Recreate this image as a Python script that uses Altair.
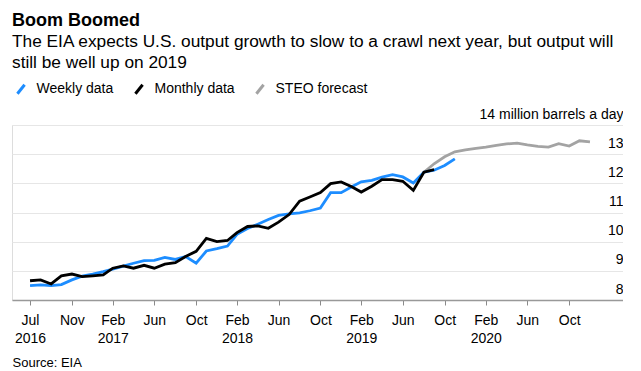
import altair as alt
import pandas as pd

FONT = "Liberation Sans, Arial, Helvetica, sans-serif"

# ---- data (million barrels a day) ----
series_names = ["Weekly data", "Monthly data", "STEO forecast"]
series_colors = ["#1d8dff", "#000000", "#a3a3a3"]

weekly_start = "2016-07-01"
weekly_values = [8.49, 8.52, 8.49, 8.53, 8.69, 8.82, 8.89, 8.97, 9.06, 9.16, 9.26, 9.35,
                 9.36, 9.46, 9.39, 9.49, 9.26, 9.68, 9.76, 9.85, 10.25, 10.45, 10.60, 10.76,
                 10.90, 10.95, 10.99, 11.06, 11.15, 11.68, 11.68, 11.88, 12.05, 12.10, 12.21, 12.30,
                 12.22, 12.01, 12.38, 12.45, 12.61, 12.84]

monthly_start = "2016-07-01"
monthly_values = [8.66, 8.69, 8.55, 8.83, 8.89, 8.80, 8.83, 8.86, 9.09, 9.17, 9.09, 9.19,
                  9.09, 9.23, 9.28, 9.49, 9.67, 10.11, 10.00, 10.04, 10.31, 10.52, 10.54, 10.46,
                  10.67, 10.93, 11.39, 11.53, 11.68, 11.99, 12.05, 11.88, 11.70, 11.90, 12.13, 12.13,
                  12.07, 11.76, 12.38, 12.47]

steo_start = "2019-09-01"
steo_values = [12.38, 12.67, 12.91, 13.08, 13.15, 13.20, 13.24, 13.30, 13.35, 13.38,
               13.32, 13.27, 13.24, 13.36, 13.28, 13.46, 13.42]

# x-axis ticks and their labels
tick_keys = ["2016-07", "2016-11", "2017-03", "2017-07", "2017-11", "2018-03", "2018-07",
             "2018-11", "2019-03", "2019-07", "2019-11", "2020-03", "2020-07", "2020-11"]
tick_labels = [["Jul", "2016"], "Nov", ["Feb", "2017"], "Jun", "Oct", ["Feb", "2018"], "Jun",
               "Oct", ["Feb", "2019"], "Jun", "Oct", ["Feb", "2020"], "Jun", "Oct"]

y_ticks = [8, 9, 10, 11, 12, 13, 14]

title_text = "Boom Boomed"
subtitle_lines = ["The EIA expects U.S. output growth to slow to a crawl next year, but output will",
                  "still be well up on 2019"]
source_text = "Source: EIA"
unit_label = "14 million barrels a day"


def series_frame(start, values, name):
    dates = pd.date_range(start, periods=len(values), freq="MS").strftime("%Y-%m-%dT00:00:00")
    return pd.DataFrame({"date": dates, "value": values, "series": name})


df = pd.concat([
    series_frame(weekly_start, weekly_values, series_names[0]),
    series_frame(monthly_start, monthly_values, series_names[1]),
    series_frame(steo_start, steo_values, series_names[2]),
], ignore_index=True)

tick_values = [alt.DateTime(year=int(k[:4]), month=int(k[5:]), date=1) for k in tick_keys]


def js(v):
    if isinstance(v, list):
        return "[" + ",".join(js(x) for x in v) + "]"
    return "'" + str(v) + "'"


x_label_expr = (js(tick_labels) + "[indexof(" + js(tick_keys) +
                ", timeFormat(datum.value, '%Y-%m'))]")

x_axis = alt.Axis(
    values=tick_values, labelExpr=x_label_expr, labelAngle=0, labelAlign="center",
    labelBaseline="top", labelPadding=8, labelLineHeight=18, labelFontSize=14,
    labelFont=FONT, labelColor="#000", labelOverlap=False, labelFlush=False,
    tickSize=5, tickColor="#8a8a8a", tickWidth=1, domainColor="#999999", domainWidth=1.5,
    grid=False, title=source_text, titleFont=FONT, titleFontSize=13, titleFontWeight="normal",
    titleAnchor="start", titleAlign="left", titleBaseline="alphabetic", titleX=0, titleY=66,
    titleColor="#000",
)

y_axis = alt.Axis(
    orient="right", values=y_ticks,
    labelExpr="datum.value == 14 ? '" + unit_label + "' : datum.label",
    domain=False, ticks=False, tickSize=0, grid=True, gridColor="#e6e6e6", gridWidth=1,
    labelAlign="right", labelBaseline="alphabetic", labelPadding=0, labelOffset=-7,
    labelFontSize=14, labelFont=FONT, labelColor="#000", labelFlush=False, labelBound=False,
    title=None,
)

legend = alt.Legend(
    orient="none", legendX=2, legendY=-43, direction="horizontal", title=None,
    symbolType="M-0.8,1L0.8,-1", symbolSize=80, symbolStrokeWidth=3,
    labelFontSize=14, labelFont=FONT, labelColor="#000", labelOffset=8.5,
    columnPadding=15, padding=0,
)

base = alt.Chart(df).encode(
    x=alt.X("date:T", axis=x_axis,
            scale=alt.Scale(domain=[alt.DateTime(year=2016, month=5, date=9),
                                    alt.DateTime(year=2021, month=4, date=8)])),
    y=alt.Y("value:Q", axis=y_axis, scale=alt.Scale(domain=[8, 14], nice=False, zero=False)),
    color=alt.Color("series:N", scale=alt.Scale(domain=series_names, range=series_colors),
                    legend=legend),
)

draw_order = [series_names[2], series_names[0], series_names[1]]
layers = [base.transform_filter(alt.datum.series == s).mark_line(strokeWidth=2.8)
          for s in draw_order]

chart = alt.layer(*layers).properties(
    width=611, height=175,
    padding={"left": 4, "top": 3, "right": 0, "bottom": 0},
    title=alt.TitleParams(
        text=title_text, subtitle=subtitle_lines, anchor="start", frame="group",
        font=FONT, fontSize=18, fontWeight="bold", color="#000",
        subtitleFont=FONT, subtitleFontSize=17.3, subtitleColor="#000",
        subtitleLineHeight=21, subtitlePadding=3, offset=11,
    ),
).configure_view(stroke=None).configure(background="white")

chart.save("out.html", embed_options={"renderer": "svg", "actions": False})
